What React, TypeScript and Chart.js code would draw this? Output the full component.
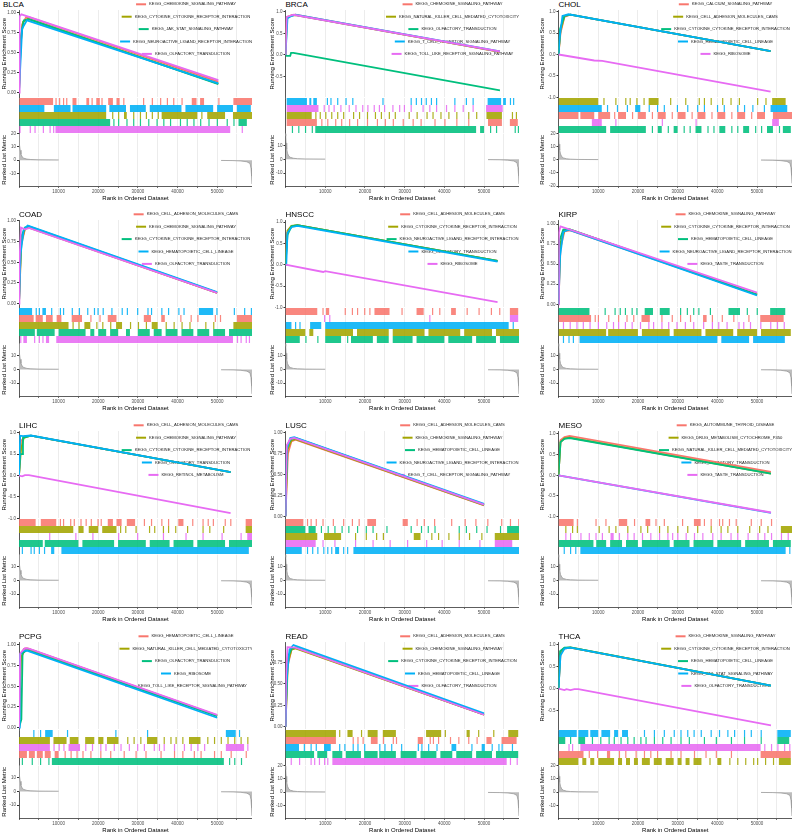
import React, { useEffect, useRef } from 'react';
import { Chart, registerables } from 'chart.js';

Chart.register(...registerables);

type Pt = [number, number];
type Hit = number | [number, number];
type HitRow = [number, Hit[]];

const FONT = '"Liberation Sans", Arial, Helvetica, sans-serif';
const COLORS = ['#F8766D', '#A3A500', '#00BF7D', '#00B0F6', '#E76BF3'];
const X_MAX = 58.8; // rank, in thousands
const X_STEP = 5;
const TICK_W = 0.3; // drawn width of one hit mark (thousand ranks)

const PANEL_NAMES = ['BLCA', 'BRCA', 'CHOL', 'COAD', 'HNSCC', 'KIRP', 'LIHC', 'LUSC', 'MESO', 'PCPG', 'READ', 'THCA'];
const ES_MIN = [-0.06, -0.98, -1.0, -0.044, -1.0, -0.037, -1.0, -0.024, -1.04, -0.02, -0.03, -0.92];
const ES_MAX = [1.03, 1.04, 1.04, 1.012, 1.05, 1.05, 1.04, 1.024, 1.07, 1.036, 0.99, 1.06];
const ES_STEP = [0.25, 0.5, 0.5, 0.25, 0.5, 0.25, 0.5, 0.25, 0.5, 0.25, 0.25, 0.5];
const ES_DECIMALS = [2, 1, 1, 2, 1, 2, 1, 2, 1, 2, 2, 1];
const METRIC_MIN = [-19.5, -19.5, -20, -19.5, -19.5, -19.5, -19.5, -19.5, -19.5, -19.5, -19.5, -19.5];
const METRIC_MAX = [20, 18.8, 20, 19, 19, 19, 19, 19, 19, 19, 20, 20];

// ranked list metric (x in thousand ranks); null = no visible segment
const RANKED_METRIC: (Pt | null)[] = [
  [0, 20], [0.05, 17], [0.15, 12], [0.3, 7.5], [0.5, 4.5], [0.8, 2.5], [1.2, 1.5], [2, 0.8], [3, 0.5], [5, 0.3], [10, 0.2],
  null,
  [51, -0.2], [54, -0.3], [56, -0.6], [57.5, -1.2], [58.3, -2.5], [58.55, -6], [58.7, -12], [58.8, -18],
];

// ---------- BLCA ----------
const BLCA_TERMS = ['KEGG_CHEMOKINE_SIGNALING_PATHWAY', 'KEGG_CYTOKINE_CYTOKINE_RECEPTOR_INTERACTION', 'KEGG_JAK_STAT_SIGNALING_PATHWAY', 'KEGG_NEUROACTIVE_LIGAND_RECEPTOR_INTERACTION', 'KEGG_OLFACTORY_TRANSDUCTION'];
const BLCA_ES: Pt[][] = [
  [[0, 0], [0.3, 0.5], [0.8, 0.85], [1.8, 0.94], [2.5, 0.94], [50.3, 0.135]],
  [[0, 0], [0.4, 0.6], [1.0, 0.88], [2.2, 0.92], [50.3, 0.11]],
  [[0, 0], [0.5, 0.7], [1.2, 0.9], [2.5, 0.915], [50.3, 0.105]],
  [[0, 0], [0.3, 0.3], [0.8, 0.8], [2, 0.9], [50.3, 0.115]],
  [[0, 0], [0.15, 0.95], [0.6, 0.975], [50.3, 0.155]],
];
const BLCA_HITS: HitRow[] = [
  [0, [[0.1, 8.6], 9.2, 10.1, 11.1, 11.9, [13.5, 14.5], [17, 17.7], 18.3, [19.5, 20.4], 20.8, [22.5, 23.7], [24.6, 25.4], 26.3, 31.3, 33.5, 35.6, 37.3, 38.9, 41, [43.6, 44.8], [45.7, 46.7], 50.3, [54.1, 58.8]]],
  [3, [[0.1, 6.4], [8.8, 13], [13.5, 22], [22.8, 27], [28, 32], [33, 41], [42, 49], [50, 54], [55, 58.5]]],
  [1, [[0.1, 22], 23.5, 25, [26.5, 27.2], 28.8, 30.5, 32, 33.5, 35, [36, 45], 46, [47.5, 52], [54, 58.8]]],
  [2, [[0.1, 23], 23.8, 25, 27.1, 28.8, 30.5, 32.6, 34.7, 36.4, 38.1, 40.6, 42.3, 44, 45.7, 47.8, 49.9, 52.4, 54.1, [55.4, 57.5]]],
  [4, [0.1, 2.7, 3.9, 6, 7.7, 8.6, [9.2, 53.3], 56.2]],
];

// ---------- BRCA ----------
const BRCA_TERMS = ['KEGG_CHEMOKINE_SIGNALING_PATHWAY', 'KEGG_NATURAL_KILLER_CELL_MEDIATED_CYTOTOXICITY', 'KEGG_OLFACTORY_TRANSDUCTION', 'KEGG_T_CELL_RECEPTOR_SIGNALING_PATHWAY', 'KEGG_TOLL_LIKE_RECEPTOR_SIGNALING_PATHWAY'];
const BRCA_ES: Pt[][] = [
  [[0, 0], [0.3, 0.85], [1.5, 0.92], [2.5, 0.93], [54, 0.07]],
  [[0, 0], [0.4, 0.88], [1.5, 0.91], [2.5, 0.92], [54, 0.07]],
  [[0, 0], [0.3, -0.02], [1.2, -0.02], [1.4, 0.05], [2, 0.05], [54, -0.82]],
  [[0, 0], [0.1, 0.0], [0.5, 0.85], [1.5, 0.9], [2.5, 0.93], [54, 0.08]],
  [[0, 0], [0.3, 0.88], [2, 0.93], [54, 0.08]],
];
const BRCA_HITS: HitRow[] = [
  [3, [[0.3, 5.4], [6, 6.5], [7, 7.9], 10.4, 11.3, 13, 15.1, 16.8, 24.4, 31.5, 32.8, 34.1, 35.3, 36.6, 37.9, 42.5, 45.4, 47.1, [50.9, 54.3], [54.8, 55.5], 56.5, 57.3]],
  [4, [[0.3, 8.3], 9.6, 10.8, 12.1, 13.8, 15.9, 17.6, 19.3, 20.6, 22.2, 23.5, 24.8, 26.9, 28.6, 29.8, 31.5, 34.5, 36.2, 37.9, 40.4, 42.5, 44.6, 47.1, [50.5, 54.7]]],
  [1, [[0.3, 6.6], 7.5, 8.6, 10, 11.5, 13, 14.5, 17, 18.5, 20.5, 22.5, 24, 26, 27.5, 31, 33, 35.5, 37, 39, 41, 43, 46, 48, [50.6, 54.5], 57, 58]],
  [0, [[0.3, 7.9], 9, 10.5, 12.5, 14, 16, 18, 20.5, 23, 25, 27, 29.5, 32, 34, 37.5, 40, 43, 46, [51, 54.5], [56.5, 58.5]]],
  [2, [1.6, 3.2, 4.9, 6.6, [7.5, 48], [49, 50], 51.5, 53, 57.7, 58.5]],
];

// ---------- CHOL ----------
const CHOL_TERMS = ['KEGG_CALCIUM_SIGNALING_PATHWAY', 'KEGG_CELL_ADHESION_MOLECULES_CAMS', 'KEGG_CYTOKINE_CYTOKINE_RECEPTOR_INTERACTION', 'KEGG_HEMATOPOIETIC_CELL_LINEAGE', 'KEGG_RIBOSOME'];
const CHOL_ES: Pt[][] = [
  [[0, 0], [0.5, 0.5], [1.5, 0.88], [3, 0.93], [53.4, 0.08]],
  [[0, 0], [0.5, 0.55], [1.5, 0.9], [3, 0.93], [53.4, 0.08]],
  [[0, 0], [0.4, 0.6], [1.5, 0.9], [3, 0.93], [53.4, 0.08]],
  [[0, 0], [0.3, 0.4], [1, 0.9], [2.5, 0.94], [53.4, 0.08]],
  [[0, 0], [9, -0.14], [11, -0.15], [53.4, -0.87]],
];
const CHOL_HITS: HitRow[] = [
  [1, [[0, 10], 11.3, 14.3, 16.8, 17.9, 19.6, 21.4, [22.7, 25.2], 28.1, 31.9, 35.3, 36.6, 38.3, 41.2, 43.3, 45.4, 50, 52.1, [53.8, 57.2]]],
  [3, [[0, 10.9], 12.2, 14.7, 17.2, [19.3, 20.6], 22.7, 24.8, 26.5, 29.8, 32.4, 34.9, 36.6, 39.9, 41.6, 45, 46.7, 48.8, 51.7, [53.4, 57.6]]],
  [0, [[0, 5], [5.5, 9], [10, 13], 14, [15, 17], 18.5, [20, 22], 23.5, [25, 27], 28.5, [30, 32], 33.5, [35, 37], 38.5, [40, 42], 43.5, [45, 47], 48.5, [50, 52], [54, 58.8]]],
  [4, [[8.4, 10.9], 14.3, 26, 34.5, [53.8, 55.5]]],
  [2, [[0, 12], [13, 22], 23.5, [25, 26], 27.5, [29, 30], 31.5, 33, [34.5, 36], 37.5, 39, [40.5, 42], 43.5, 45, [46.5, 48], 49.5, 51, [52.5, 54], 55.5, [56.5, 58.5]]],
];

// ---------- COAD ----------
const COAD_TERMS = ['KEGG_CELL_ADHESION_MOLECULES_CAMS', 'KEGG_CHEMOKINE_SIGNALING_PATHWAY', 'KEGG_CYTOKINE_CYTOKINE_RECEPTOR_INTERACTION', 'KEGG_HEMATOPOIETIC_CELL_LINEAGE', 'KEGG_OLFACTORY_TRANSDUCTION'];
const COAD_ES: Pt[][] = [
  [[0, 0], [0.5, 0.7], [1.5, 0.9], [2.5, 0.93], [50, 0.13]],
  [[0, 0], [0.6, 0.75], [1.5, 0.91], [2.5, 0.92], [50, 0.13]],
  [[0, 0], [0.5, 0.8], [1.5, 0.92], [2.5, 0.935], [50, 0.135]],
  [[0, 0], [0.4, 0.6], [1.2, 0.9], [2.2, 0.945], [50, 0.14]],
  [[0, 0], [0.1, 0.5], [0.5, 0.92], [1.5, 0.9], [2.5, 0.915], [50, 0.13]],
];
const COAD_HITS: HitRow[] = [
  [3, [[0, 3.3], 4.2, 5, [5.9, 6.8], 8.1, 10.3, 11.1, 13.3, 15.1, 17.2, 18.9, 19.8, 21.1, 23.3, 25.9, 27.2, 29.8, 32.4, 33.3, 35.9, 37.6, 40.2, 41.5, [45.4, 49], 49.8, 54.2, 56.8, 58.5]],
  [0, [[0, 3.7], [4.2, 6], [6.8, 8.5], [9.5, 10.7], [13.3, 15.9], 18, 20.3, [22.4, 24.6], [31.5, 33.3], [35.9, 36.8], 40.7, 43.3, 45, 49.4, 50.7, [55, 58.8]]],
  [1, [[0, 12.5], 13.5, 15, [16.5, 18], 19.5, 21, 23, [24.5, 26], 28, 30, 32, [33.5, 35], 37, 39, 41, 43, 47, 49, [54.1, 58.8]]],
  [2, [[0, 4], [4.5, 9], [10, 16.8], [18, 19], [20, 22], [23, 25], [27, 28], [30, 33], [34, 36], [37, 40], [41, 44], [45, 48], [49, 52], [53, 58.8]]],
  [4, [0.3, [1.1, 2], 3.8, 5, 5.9, [6.8, 7.6], [9.4, 54], 55, 55.9, 57.2, 58]],
];

// ---------- HNSCC ----------
const HNSCC_TERMS = ['KEGG_CELL_ADHESION_MOLECULES_CAMS', 'KEGG_CYTOKINE_CYTOKINE_RECEPTOR_INTERACTION', 'KEGG_NEUROACTIVE_LIGAND_RECEPTOR_INTERACTION', 'KEGG_OLFACTORY_TRANSDUCTION', 'KEGG_RIBOSOME'];
const HNSCC_ES: Pt[][] = [
  [[0, 0], [0.4, 0.75], [1.5, 0.9], [3, 0.93], [53.4, 0.09]],
  [[0, 0], [0.5, 0.8], [1.5, 0.91], [3, 0.93], [53.4, 0.09]],
  [[0, 0], [0.5, 0.7], [1.5, 0.9], [3, 0.93], [53.4, 0.09]],
  [[0, 0], [0.2, 0.0], [0.5, 0.75], [1.5, 0.88], [3, 0.91], [53.4, 0.07]],
  [[0, 0], [9.5, -0.17], [10, -0.15], [53.4, -0.88]],
];
const HNSCC_HITS: HitRow[] = [
  [0, [[0, 8], 9.3, [10.2, 11], 14.9, 16.7, 18, 19.8, 21.1, [22.4, 26.2], 29.2, [33, 34.8], 36.9, 38.7, [41.7, 42.9], 45.6, 48.6, 51.7, 53.8, [56.5, 58.6]]],
  [4, [9.7, 11, 36.2, [56.5, 58.6]]],
  [3, [[0, 1.5], 2.4, 3.5, [6.2, 9], [10, 56.2], 57.2]],
  [1, [[0, 5], [6, 7], [10, 17], [18, 26], [27, 35], [36, 44], [45, 52], [53, 58.8]]],
  [2, [[0, 3.6], 5, 8, [10, 14], 15.5, [16.5, 22], [23, 26], [27, 32], [33, 40], [41, 47], [48, 53], [54, 58.8]]],
];

// ---------- KIRP ----------
const KIRP_TERMS = ['KEGG_CHEMOKINE_SIGNALING_PATHWAY', 'KEGG_CYTOKINE_CYTOKINE_RECEPTOR_INTERACTION', 'KEGG_HEMATOPOIETIC_CELL_LINEAGE', 'KEGG_NEUROACTIVE_LIGAND_RECEPTOR_INTERACTION', 'KEGG_TASTE_TRANSDUCTION'];
const KIRP_ES: Pt[][] = [
  [[0, 0], [0.5, 0.7], [1.5, 0.91], [3, 0.92], [50, 0.12]],
  [[0, 0], [0.4, 0.75], [1.5, 0.92], [3, 0.93], [50, 0.12]],
  [[0, 0], [0.3, 0.8], [1.2, 0.93], [2.5, 0.94], [50, 0.12]],
  [[0, 0], [0.4, 0.6], [1.2, 0.9], [2.5, 0.93], [50, 0.11]],
  [[0, 0], [0.1, 0.9], [0.5, 0.97], [50, 0.145]],
];
const KIRP_HITS: HitRow[] = [
  [2, [[0, 7.8], 11.6, 14.1, 15.4, 16.7, 18.4, 19.6, [21.7, 23.8], [25.5, 28], 30.6, 32.3, 33.9, 35.2, 38.1, [42.8, 45.7], 47.4, 49.9, [53.3, 57.1]]],
  [0, [[0, 8.2], 9.1, 9.9, 12.5, 15, 17.1, 18.8, [20.9, 23], 25.9, 28.5, 30.6, 33.1, [36.4, 37.3], 38.6, 41.1, 44, 47.8, [50.8, 56.7]]],
  [4, [1.1, 2.8, 4.5, 6.1, 7.8, 9.9, 12, 13.7, 15, 16.7, 18.4, 20.5, 22.6, 23.8, 25.9, 27.6, 29.7, 31.8, 33.9, 36.4, 38.6, 40.2, 42.3, 45.3, 46.5, 48.2, 50.8, 53.3, 55, 56.7]],
  [1, [[0, 12], [12.5, 20], [21, 28], [29, 36], [37, 44], [45, 50], [51, 58.5]]],
  [3, [1.1, 2.5, 3.6, [5.3, 40], [41, 48], [49, 57]]],
];

// ---------- LIHC ----------
const LIHC_TERMS = ['KEGG_CELL_ADHESION_MOLECULES_CAMS', 'KEGG_CHEMOKINE_SIGNALING_PATHWAY', 'KEGG_CYTOKINE_CYTOKINE_RECEPTOR_INTERACTION', 'KEGG_OLFACTORY_TRANSDUCTION', 'KEGG_RETINOL_METABOLISM'];
const LIHC_ES: Pt[][] = [
  [[0, 0], [0.5, 0.8], [1.5, 0.92], [3, 0.93], [53.4, 0.08]],
  [[0, 0], [0.5, 0.6], [1.2, 0.88], [3, 0.93], [53.4, 0.08]],
  [[0, 0], [0.3, 0.5], [0.8, 0.5], [1, 0.88], [3, 0.93], [53.4, 0.08]],
  [[0, 0], [0.3, 0.93], [1, 0.92], [3, 0.935], [53.4, 0.08]],
  [[0, 0], [0.8, -0.02], [1.5, 0.01], [2.5, 0.01], [53.4, -0.88]],
];
const LIHC_HITS: HitRow[] = [
  [0, [[0, 4.2], [5.5, 9.4], 10.3, 11.1, 12.9, 13.8, 15.5, 16.8, 18.1, 19.8, 20.6, [22.4, 23.7], [24.6, 25.9], [27.2, 29.3], 31.5, 33.3, 35.9, 37.6, [40.2, 41.5], 43.7, 46.3, 47.6, 48.9, 51.9, 53.3, [57.2, 58.8]]],
  [1, [[0, 13.7], [15, 16.3], [17.6, 20], [21, 24.6], 25.5, 26.8, 29.4, 32.8, 34.1, 36.3, 37.6, 39.4, 42.4, 46.3, 48, 51.5, [57.2, 58.8]]],
  [4, [7.6, 14.2, 18.5, 25, 29.8, 36.3, 42, 46.3, 51.1, 55.9, [57.6, 58.8]]],
  [2, [[0, 6], [6.5, 15], [16, 24], [25, 32], [33, 38], [39, 44], [45, 52], [53, 58.8]]],
  [3, [0.7, 2.9, 3.7, 5, 6.3, [8.1, 8.9], [10.7, 58]]],
];

// ---------- LUSC ----------
const LUSC_TERMS = ['KEGG_CELL_ADHESION_MOLECULES_CAMS', 'KEGG_CHEMOKINE_SIGNALING_PATHWAY', 'KEGG_HEMATOPOIETIC_CELL_LINEAGE', 'KEGG_NEUROACTIVE_LIGAND_RECEPTOR_INTERACTION', 'KEGG_T_CELL_RECEPTOR_SIGNALING_PATHWAY'];
const LUSC_ES: Pt[][] = [
  [[0, 0], [0.6, 0.75], [1.5, 0.9], [2.5, 0.92], [50, 0.13]],
  [[0, 0], [0.5, 0.8], [1.5, 0.91], [2.5, 0.925], [50, 0.135]],
  [[0, 0], [0.4, 0.85], [1.5, 0.93], [2.5, 0.94], [50, 0.14]],
  [[0, 0], [0.3, 0.8], [1.2, 0.94], [2.2, 0.95], [50, 0.15]],
  [[0, 0], [0.3, 0.85], [1.2, 0.93], [2.2, 0.94], [50, 0.14]],
];
const LUSC_HITS: HitRow[] = [
  [0, [[0, 4.5], 5.4, 6.3, 7.6, 9.3, 11.9, 14.5, 16.7, 18.4, [20.6, 22.8], [29.5, 30.8], 33, 34.8, 37.4, 41.7, 45.1, 47.8, 50.8, 54.3, 56.5, 58.6]],
  [2, [[0, 5], [5.8, 7.6], 8.9, 10.6, 12.3, 14.1, 15.8, 18, 20.2, 21.9, 25.4, 31.5, 34.1, 35.8, 37.5, 43.6, 45.4, 48, 50.6, 54, [55.8, 58.8]]],
  [1, [[0, 8], [9.7, 14], 17.5, 20.2, 22.8, 24.5, [32.3, 34], 36.7, 38.4, 41, 43.6, 46.2, 49.3, [52.7, 58.8]]],
  [4, [[0, 7.6], 9.3, 12.3, 17.5, 21.9, 26.2, 30.6, 35.4, 39.3, 43.6, 48.8, [52.7, 57.1]]],
  [3, [[0, 4.1], 5.4, 6.7, 8, 9.5, 10.5, 11.5, [12.5, 13.5], 14.5, 15.5, [17.1, 58.8]]],
];

// ---------- MESO ----------
const MESO_TERMS = ['KEGG_AUTOIMMUNE_THYROID_DISEASE', 'KEGG_DRUG_METABOLISM_CYTOCHROME_P450', 'KEGG_NATURAL_KILLER_CELL_MEDIATED_CYTOTOXICITY', 'KEGG_OLFACTORY_TRANSDUCTION', 'KEGG_TASTE_TRANSDUCTION'];
const MESO_ES: Pt[][] = [
  [[0, 0], [0.5, 0.85], [1.5, 0.92], [2.8, 0.95], [53.5, 0.08]],
  [[0, 0], [0.5, 0.8], [1.5, 0.89], [2.8, 0.91], [53.5, 0.04]],
  [[0, 0], [0.5, 0.8], [1.5, 0.88], [2.8, 0.9], [53.5, 0.04]],
  [[0, 0], [53.5, -0.91]],
  [[0, 0], [53.5, -0.9]],
];
const MESO_HITS: HitRow[] = [
  [0, [[0, 3.8], 4.6, 9.3, 11.8, [15.2, 17.3], 19, [21.9, 23.1], 24.4, 26.5, 31.1, [34.1, 35.8], 36.6, 38.3, 40.4, 41.2, 42.9, 44.6, 48.4, 50.9, 53.5]],
  [1, [1.7, 3.4, 4.6, 10.1, 12.6, 14.3, 17.3, 20.6, 22.3, 25.3, 27.4, 29.9, 32.4, 34.9, 38.3, 40.8, 42.5, 45, 48, 50.5, 52.6, [56, 58.8]]],
  [4, [1.7, 2.9, 5.5, 7.6, 9.3, 10.9, [13.1, 13.9], 15.2, 17.3, 18.9, 21, 23.1, 25.3, 27.4, 28.6, 29.9, 32, 34.1, 36.2, 38.7, 40.8, 43.3, 45, 47.6, 50.1, 51.8, 53.5, 56, 57.7]],
  [2, [[0, 8.8], [9.5, 12], [13, 16], [17, 20], [21, 28], [29, 33], [34, 39], [40, 46], [47, 53], [54, 58.5]]],
  [3, [1.3, 2.9, 4.2, [5.5, 57.2], 58.1]],
];

// ---------- PCPG ----------
const PCPG_TERMS = ['KEGG_HEMATOPOIETIC_CELL_LINEAGE', 'KEGG_NATURAL_KILLER_CELL_MEDIATED_CYTOTOXICITY', 'KEGG_OLFACTORY_TRANSDUCTION', 'KEGG_RIBOSOME', 'KEGG_TOLL_LIKE_RECEPTOR_SIGNALING_PATHWAY'];
const PCPG_ES: Pt[][] = [
  [[0, 0], [0.4, 0.8], [1.2, 0.95], [2, 0.96], [50, 0.15]],
  [[0, 0], [0.5, 0.85], [1.5, 0.94], [2.5, 0.95], [50, 0.145]],
  [[0, 0], [0.6, 0.1], [0.9, 0.9], [2, 0.94], [50, 0.14]],
  [[0, 0], [0.2, 0.88], [1, 0.93], [2, 0.93], [50, 0.12]],
  [[0, 0], [0.3, 0.9], [1.5, 0.96], [2.5, 0.955], [50, 0.155]],
];
const PCPG_HITS: HitRow[] = [
  [3, [3.6, 5.3, [6.6, 8.5], 12.1, 24.3, 32.3, [52.2, 54.7], 55.5]],
  [1, [[0, 7.8], [8.7, 12], [12.8, 15], [16.7, 19], [20, 21.3], [22.2, 25.1], 27.3, 28.9, 30.6, [32.3, 34.9], 36.5, 38.2, 39.5, 41.2, [42.9, 45.8], 47.5, 49.2, 50.9, 52.6, 54.3, 55.9, 57.6]],
  [4, [[0, 7.8], 8.7, 10, 11.2, [12.5, 15.4], 16.7, 18.4, 20.5, 21.8, 23.9, 25.6, 27.7, 29.8, 31.5, 34, 35.3, 36.5, 39.1, 41.6, 43.3, 45, 46.7, [52.2, 56.8], 57.6]],
  [0, [[0, 2], [2.5, 4], [4.5, 6], [6.5, 8], [9, 10], 11.5, 13, 14.5, 16, 18, 20.5, 23, 26.4, 29.4, 31.9, 35.7, 39.1, 41.2, 44.1, 45.8, 49.2, 50.9, 53.4, 57.2]],
  [2, [0.7, 3.2, 5.3, 7.4, [8.3, 51.7], 53, 54.3, 56]],
];

// ---------- READ ----------
const READ_TERMS = ['KEGG_CELL_ADHESION_MOLECULES_CAMS', 'KEGG_CHEMOKINE_SIGNALING_PATHWAY', 'KEGG_CYTOKINE_CYTOKINE_RECEPTOR_INTERACTION', 'KEGG_HEMATOPOIETIC_CELL_LINEAGE', 'KEGG_OLFACTORY_TRANSDUCTION'];
const READ_ES: Pt[][] = [
  [[0, 0], [0.5, 0.7], [1.5, 0.9], [2.5, 0.92], [50, 0.14]],
  [[0, 0], [0.6, 0.75], [1.5, 0.9], [2.5, 0.915], [50, 0.14]],
  [[0, 0], [0.5, 0.8], [1.5, 0.91], [2.5, 0.93], [50, 0.145]],
  [[0, 0], [0.3, 0.55], [1, 0.9], [2, 0.955], [50, 0.155]],
  [[0, 0], [0.15, 0.6], [0.5, 0.93], [2.5, 0.925], [50, 0.14]],
];
const READ_HITS: HitRow[] = [
  [1, [[0, 12.7], 13.5, [15.6, 16.9], 19, [20.7, 23.2], [24.5, 27.8], [35.4, 39.2], 40.1, [45.6, 46.4], 48.5, 52.3, [56.1, 58.6]]],
  [0, [[0, 12.7], 16.9, 18.1, 19.4, [21.5, 23.2], 24.5, 27, 27.8, [33.3, 34.6], 36.3, 37.1, 38.4, 41.4, 43.5, 46, 48.1, [50.6, 51.9], [54.4, 58.2]]],
  [3, [[0, 3.4], 4.6, 6.3, 7.6, [9.7, 11.4], 13.5, 14.8, 16.9, 18.1, 19.8, 23.6, 24.9, 26.6, 29.1, 33.3, 34.2, 35.9, 38, [41.8, 43], 46.8, [49.4, 50.2], 51.9, 53.6, 54.4, 57]],
  [2, [[0, 7.2], [8, 10.5], [11.8, 14.3], [15.2, 19], [19.8, 23.2], [23.6, 27.8], [29, 33], [34, 38], [39, 42], [43, 47], [48, 52], [53, 58.6]]],
  [4, [1.3, 3.4, 6.3, 7.2, 8.4, 9.7, 10.5, [11.8, 55.7], 56.5, 58.2]],
];

// ---------- THCA ----------
const THCA_TERMS = ['KEGG_CHEMOKINE_SIGNALING_PATHWAY', 'KEGG_CYTOKINE_CYTOKINE_RECEPTOR_INTERACTION', 'KEGG_HEMATOPOIETIC_CELL_LINEAGE', 'KEGG_JAK_STAT_SIGNALING_PATHWAY', 'KEGG_OLFACTORY_TRANSDUCTION'];
const THCA_ES: Pt[][] = [
  [[0, 0], [0.5, 0.8], [1.5, 0.91], [3, 0.93], [53.5, 0.07]],
  [[0, 0], [0.5, 0.85], [1.5, 0.92], [3, 0.935], [53.5, 0.07]],
  [[0, 0], [0.4, 0.85], [1.5, 0.93], [3, 0.94], [53.5, 0.07]],
  [[0, 0], [0.5, 0.75], [1.5, 0.91], [3, 0.93], [53.5, 0.07]],
  [[0, 0], [1.5, -0.03], [2, -0.01], [3, -0.03], [4, -0.01], [5, -0.01], [53.5, -0.83]],
];
const THCA_HITS: HitRow[] = [
  [3, [[0, 4.6], [5, 7.5], [8, 10], [10.8, 13], [14, 15], [16, 17.5], 21.5, 24, 26.5, 29, 30.7, 32.4, 34, 35.8, 38.3, 40.4, 42.5, 44.2, 46.7, 48.4, 50.9, [55.1, 58.5]]],
  [2, [[0, 1.7], 2.9, [5, 6.7], 8.4, 10.5, 12.6, 13.9, 15.6, 17.3, 18.9, 20.6, 21.9, 24, 26.1, 28.2, 30.7, 32.8, 36.6, 39.6, 43.4, 46.7, 50.9, [55.1, 58.1]]],
  [4, [2.5, 3.4, [5.5, 50.9], 51.8, 53.5, 55.1, 56.8, 58.1]],
  [0, [[0, 6.3], 7.6, 9.7, [12.2, 13], 15.2, 16.8, 19.4, 21.5, 23.1, 24.8, 28.2, 30.7, 34.1, 37, 39.6, 43.4, [50.9, 58.5]]],
  [1, [[0, 5], [6, 7], [8, 9], [10, 14], [15, 16], [17, 18], [19, 20], [21, 23], [24, 26], [27, 29], [30, 31], [32, 33], [34, 36], 38, [40, 41], 43, 45, 47, 49, 50, 52, 54, [55.5, 58.5]]],
];

const PANEL_TERMS = [BLCA_TERMS, BRCA_TERMS, CHOL_TERMS, COAD_TERMS, HNSCC_TERMS, KIRP_TERMS, LIHC_TERMS, LUSC_TERMS, MESO_TERMS, PCPG_TERMS, READ_TERMS, THCA_TERMS];
const PANEL_ES = [BLCA_ES, BRCA_ES, CHOL_ES, COAD_ES, HNSCC_ES, KIRP_ES, LIHC_ES, LUSC_ES, MESO_ES, PCPG_ES, READ_ES, THCA_ES];
const PANEL_HITS = [BLCA_HITS, BRCA_HITS, CHOL_HITS, COAD_HITS, HNSCC_HITS, KIRP_HITS, LIHC_HITS, LUSC_HITS, MESO_HITS, PCPG_HITS, READ_HITS, THCA_HITS];

// ---------- layout ----------
const COL_LEFT = [0, 268, 538];
const AXIS_W = [19, 17.5, 20.5];
const ROW_TOP = [0, 210, 421, 632];
const PLOT_W = 233;
const AXIS_COLOR = '#333333';
const TICK_TEXT = '#4d4d4d';
const GRID_COLOR = '#e4e4e4';

const legendPlugin: any = {
  id: 'gseaLegend',
  beforeDatasetsDraw(chart: any, _args: any, opts: any) {
    const { ctx, chartArea } = chart;
    const terms: string[] = opts.terms || [];
    ctx.save();
    ctx.font = `4.2px ${FONT}`;
    ctx.textBaseline = 'middle';
    terms.forEach((t, k) => {
      const y = 4.3 + 12.4 * k;
      const tw = ctx.measureText(t).width;
      const total = 10 + 3 + tw;
      const x0 = chartArea.left + 167 - total / 2;
      ctx.strokeStyle = COLORS[k];
      ctx.lineWidth = 2;
      ctx.beginPath();
      ctx.moveTo(x0, y);
      ctx.lineTo(x0 + 10, y);
      ctx.stroke();
      ctx.fillStyle = '#1a1a1a';
      ctx.fillText(t, x0 + 13, y);
    });
    ctx.restore();
  },
};

function xScale(showLabels: boolean): any {
  return {
    type: 'linear',
    min: 0,
    max: X_MAX,
    ticks: {
      display: showLabels,
      stepSize: X_STEP,
      includeBounds: false,
      autoSkip: false,
      maxRotation: 0,
      padding: 1,
      color: TICK_TEXT,
      font: { size: 4.5, family: FONT },
      callback: (v: number) => (v > 0 && Math.round(v) % 10 === 0 ? String(Math.round(v * 1000)) : ''),
    },
    grid: { color: GRID_COLOR, lineWidth: 0.7, drawTicks: showLabels, tickLength: 2, tickColor: AXIS_COLOR },
    border: { display: showLabels, color: AXIS_COLOR, width: 0.8 },
    title: showLabels
      ? { display: true, text: 'Rank in Ordered Dataset', color: '#000', font: { size: 6, family: FONT }, padding: { top: 0, bottom: 1 } }
      : { display: false },
    afterFit: (s: any) => { s.height = showLabels ? 17 : 0; },
  };
}

function yCommon(W: number, title: string | null, showTicks: boolean): any {
  return {
    ticks: { display: showTicks, padding: 1, color: TICK_TEXT, font: { size: 4.5, family: FONT }, includeBounds: false },
    grid: { display: showTicks, drawOnChartArea: false, drawTicks: showTicks, tickLength: 2, tickColor: AXIS_COLOR },
    border: { display: true, color: AXIS_COLOR, width: 0.8 },
    title: title
      ? { display: true, text: title, color: '#000', font: { size: 6, family: FONT }, padding: { top: 1, bottom: 0 } }
      : { display: false },
    afterFit: (s: any) => { s.width = W; },
  };
}

const baseOptions = (padding: any): any => ({
  animation: false,
  responsive: false,
  maintainAspectRatio: false,
  events: [],
  layout: { padding },
  plugins: { legend: { display: false }, tooltip: { enabled: false }, title: { display: false } },
});

function esConfig(i: number, W: number): any {
  const y = yCommon(W, 'Running Enrichment Score', true);
  y.min = ES_MIN[i];
  y.max = ES_MAX[i];
  y.ticks.stepSize = ES_STEP[i];
  y.ticks.callback = (v: number) => Number(v).toFixed(ES_DECIMALS[i]);
  const options = baseOptions({ top: 10, bottom: 3, left: 0, right: 0 });
  options.plugins.gseaLegend = { terms: PANEL_TERMS[i] };
  options.scales = { x: xScale(false), y };
  return {
    type: 'line',
    data: {
      datasets: PANEL_ES[i].map((curve, k) => ({
        data: curve.map(([x, v]) => ({ x, y: v })),
        borderColor: COLORS[k],
        borderWidth: 1.8,
        pointRadius: 0,
        tension: 0,
        fill: false,
        order: -k,
      })),
    },
    options,
    plugins: [legendPlugin],
  };
}

function hitSegments(hits: Hit[], y: number) {
  const out: { x: number; y: number | null }[] = [];
  hits.forEach((h) => {
    const [a, b] = typeof h === 'number' ? [h, h + TICK_W] : h;
    out.push({ x: a, y }, { x: b, y }, { x: b, y: null });
  });
  return out;
}

function hitsConfig(i: number, W: number): any {
  const y = yCommon(W, null, false);
  y.min = 0;
  y.max = 5;
  y.reverse = true;
  const options = baseOptions({ top: 0, bottom: 0, left: 0, right: 0 });
  options.scales = { x: xScale(false), y };
  return {
    type: 'line',
    data: {
      datasets: PANEL_HITS[i].map(([series, hits], row) => ({
        data: hitSegments(hits, row + 0.5),
        borderColor: COLORS[series] + 'E0',
        borderWidth: 7,
        borderCapStyle: 'butt',
        pointRadius: 0,
        spanGaps: false,
        fill: false,
      })),
    },
    options,
  };
}

function metricConfig(i: number, W: number): any {
  const y = yCommon(W, 'Ranked List Metric', true);
  y.min = METRIC_MIN[i];
  y.max = METRIC_MAX[i];
  y.ticks.stepSize = 10;
  y.ticks.callback = (v: number) => String(Math.round(v));
  const options = baseOptions({ top: 3, bottom: 0, left: 0, right: 0 });
  options.scales = { x: xScale(true), y };
  return {
    type: 'line',
    data: {
      datasets: [{
        data: RANKED_METRIC.map((p) => (p ? { x: p[0], y: p[1] } : { x: 30, y: null })),
        borderColor: '#9a9a9a',
        borderWidth: 0.8,
        backgroundColor: '#bdbdbd',
        fill: 'origin',
        pointRadius: 0,
        spanGaps: false,
        tension: 0,
      }],
    },
    options,
  };
}

function GseaPanel({ idx }: { idx: number }) {
  const esRef = useRef<HTMLCanvasElement | null>(null);
  const hitRef = useRef<HTMLCanvasElement | null>(null);
  const metRef = useRef<HTMLCanvasElement | null>(null);
  const r = Math.floor(idx / 3);
  const c = idx % 3;
  const left = COL_LEFT[c];
  const top = ROW_TOP[r];
  const W = AXIS_W[c];
  const cw = Math.round(W + PLOT_W);

  useEffect(() => {
    const charts: Chart[] = [];
    if (esRef.current) charts.push(new Chart(esRef.current, esConfig(idx, W)));
    if (hitRef.current) charts.push(new Chart(hitRef.current, hitsConfig(idx, W)));
    if (metRef.current) charts.push(new Chart(metRef.current, metricConfig(idx, W)));
    return () => charts.forEach((ch) => ch.destroy());
  }, [idx, W]);

  const canvasStyle = (t: number, h: number): React.CSSProperties => ({
    position: 'absolute', left, top: t, width: cw, height: h, display: 'block',
  });
  const titleLeft = idx === 0 ? left + 3 : left + W;

  return (
    <>
      <div style={{ position: 'absolute', left: titleLeft, top: top + 0.5, fontFamily: FONT, fontSize: 8, lineHeight: '8px', color: '#000', whiteSpace: 'nowrap' }}>
        {PANEL_NAMES[idx]}
      </div>
      <canvas ref={esRef} width={cw} height={101} style={canvasStyle(top, 101)} />
      <canvas ref={hitRef} width={cw} height={35} style={canvasStyle(top + 98, 35)} />
      <canvas ref={metRef} width={cw} height={73} style={canvasStyle(top + 130, 73)} />
    </>
  );
}

export default function App() {
  return (
    <div style={{ position: 'fixed', left: 0, top: 0, width: 795, height: 833, overflow: 'hidden', background: '#ffffff' }}>
      {PANEL_NAMES.map((_, i) => (
        <GseaPanel key={i} idx={i} />
      ))}
    </div>
  );
}
